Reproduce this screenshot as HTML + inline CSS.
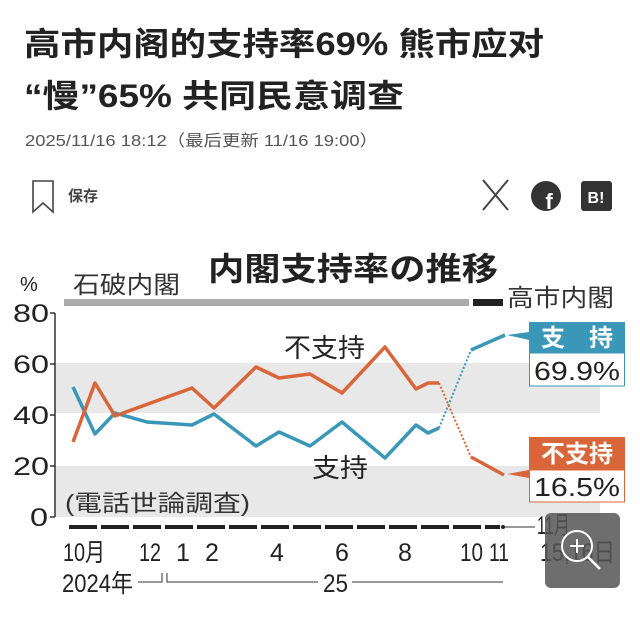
<!DOCTYPE html>
<html><head><meta charset="utf-8"><style>
body{margin:0;background:#fff;width:640px;height:627px;overflow:hidden;font-family:"Liberation Sans","Noto Sans CJK JP",sans-serif}
</style></head><body>
<svg width="640" height="627" viewBox="0 0 640 627" xmlns="http://www.w3.org/2000/svg" font-family="Liberation Sans, Noto Sans CJK JP, sans-serif">
<rect width="640" height="627" fill="#fff"/>
<text x="24" y="55" font-size="32" font-weight="bold" fill="#222" textLength="520" lengthAdjust="spacingAndGlyphs" font-family="Liberation Sans, Noto Sans CJK SC, sans-serif">高市内阁的支持率69% 熊市应对</text>
<text x="24" y="107" font-size="32" font-weight="bold" fill="#222" textLength="380" lengthAdjust="spacingAndGlyphs" font-family="Liberation Sans, Noto Sans CJK SC, sans-serif">“慢”65% 共同民意调查</text>
<text x="25" y="146" font-size="16" fill="#555" textLength="353" lengthAdjust="spacingAndGlyphs" font-family="Liberation Sans, Noto Sans CJK SC, sans-serif">2025/11/16 18:12（最后更新 11/16 19:00）</text>
<path d="M33 181 H53 V212 L43 203 L33 212 Z" fill="none" stroke="#444" stroke-width="1.6"/>
<text x="68" y="201" font-size="15" font-weight="bold" fill="#444" font-family="Liberation Sans, Noto Sans CJK SC, sans-serif">保存</text>
<path d="M483 180 L508 210 M508 180 L483 210" stroke="#444" stroke-width="2"/>
<circle cx="546" cy="196" r="15" fill="#333"/>
<text x="549" y="209" font-size="22" font-weight="bold" fill="#fff" text-anchor="middle">f</text>
<rect x="581" y="181" width="31" height="30" rx="3" fill="#333"/>
<text x="596" y="203" font-size="16" font-weight="bold" fill="#fff" text-anchor="middle">B!</text>

<rect x="55" y="363" width="545" height="50" fill="#e8e8e8"/>
<rect x="55" y="466" width="545" height="51" fill="#e8e8e8"/>
<line x1="55" y1="313" x2="55" y2="517" stroke="#333" stroke-width="1.5"/>
<g stroke="#333" stroke-width="1.5"><line x1="50" y1="313" x2="55" y2="313"/><line x1="50" y1="364" x2="55" y2="364"/><line x1="50" y1="415" x2="55" y2="415"/><line x1="50" y1="466" x2="55" y2="466"/><line x1="50" y1="517" x2="55" y2="517"/></g>
<g font-size="25" fill="#222">
<text x="13" y="322" textLength="36" lengthAdjust="spacingAndGlyphs">80</text><text x="13" y="373" textLength="36" lengthAdjust="spacingAndGlyphs">60</text><text x="13" y="424" textLength="36" lengthAdjust="spacingAndGlyphs">40</text><text x="13" y="475" textLength="36" lengthAdjust="spacingAndGlyphs">20</text><text x="30" y="526" textLength="18" lengthAdjust="spacingAndGlyphs">0</text>
</g>
<text x="20" y="291" font-size="20" fill="#222">%</text>
<text x="73" y="293" font-size="24" fill="#333" textLength="107" lengthAdjust="spacingAndGlyphs">石破内閣</text>
<text x="208" y="280" font-size="32" font-weight="bold" fill="#222" textLength="290" lengthAdjust="spacingAndGlyphs">内閣支持率の推移</text>
<rect x="64" y="299" width="405" height="7" fill="#aaa"/>
<rect x="473" y="299" width="30" height="7" fill="#222"/>
<text x="507" y="306" font-size="24" fill="#333" textLength="107" lengthAdjust="spacingAndGlyphs">高市内閣</text>

<polyline fill="none" stroke="#3a97b8" stroke-width="3.5" stroke-linejoin="round" points="73,387 95,434 115,413 147,422 192,425 214,414 256,446 279,432 310,446 342,422 385,458 416,425 428,433 439,428"/>
<polyline fill="none" stroke="#d9663a" stroke-width="3.5" stroke-linejoin="round" points="73,442 95,383 115,416 192,388 214,408 256,367 279,378 310,374 342,393 385,347 416,389 428,383 439,383"/>
<line x1="439" y1="428" x2="471" y2="350" stroke="#3a97b8" stroke-width="2" stroke-dasharray="2,2"/>
<line x1="439" y1="383" x2="471" y2="457" stroke="#d9663a" stroke-width="2" stroke-dasharray="2,2"/>
<polyline fill="none" stroke="#3a97b8" stroke-width="3.5" points="471,350 505,335"/>
<polyline fill="none" stroke="#d9663a" stroke-width="3.5" points="471,457 504,475"/>
<path d="M507 335 L529 332 L529 340 Z" fill="#3a97b8"/>
<path d="M507 474 L529 470 L529 478 Z" fill="#d9663a"/>
<rect x="529" y="322" width="96" height="31" fill="#3a97b8"/>
<rect x="529.5" y="353" width="95" height="33" fill="#fff" stroke="#3a97b8"/>
<text x="577" y="346" font-size="24" fill="#fff" text-anchor="middle" font-weight="bold">支　持</text>
<text x="534" y="380" font-size="26" fill="#222" textLength="86" lengthAdjust="spacingAndGlyphs">69.9%</text>
<rect x="529" y="437" width="96" height="33" fill="#d9663a"/>
<rect x="529.5" y="470" width="95" height="32" fill="#fff" stroke="#d9663a"/>
<text x="577" y="462" font-size="24" fill="#fff" text-anchor="middle" font-weight="bold">不支持</text>
<text x="534" y="496" font-size="26" fill="#222" textLength="86" lengthAdjust="spacingAndGlyphs">16.5%</text>

<text x="284" y="357" font-size="26" fill="#222" textLength="81" lengthAdjust="spacingAndGlyphs">不支持</text>
<text x="312" y="477" font-size="26" fill="#222" textLength="56" lengthAdjust="spacingAndGlyphs">支持</text>
<text x="65" y="511" font-size="23" fill="#333" textLength="185" lengthAdjust="spacingAndGlyphs">(電話世論調査)</text>

<line x1="69" y1="527" x2="500" y2="527" stroke="#222" stroke-width="4" stroke-dasharray="28,4"/>
<circle cx="503" cy="527" r="2" fill="#222"/>
<line x1="505" y1="527" x2="535" y2="527" stroke="#333" stroke-width="1"/>
<g font-size="25" fill="#222">
<text x="63" y="561" textLength="42" lengthAdjust="spacingAndGlyphs">10月</text>
<text x="139" y="561" textLength="22" lengthAdjust="spacingAndGlyphs">12</text>
<text x="176" y="561">1</text>
<text x="205" y="561">2</text>
<text x="270" y="561">4</text>
<text x="335" y="561">6</text>
<text x="398" y="561">8</text>
<text x="460" y="561" textLength="23" lengthAdjust="spacingAndGlyphs">10</text>
<text x="489" y="561" textLength="20" lengthAdjust="spacingAndGlyphs">11</text>
<text x="537" y="534" textLength="33" lengthAdjust="spacingAndGlyphs">11月</text>
<text x="540" y="561" textLength="75" lengthAdjust="spacingAndGlyphs">15,16日</text>
<text x="62" y="592" textLength="71" lengthAdjust="spacingAndGlyphs">2024年</text>
<text x="323" y="592" textLength="25" lengthAdjust="spacingAndGlyphs">25</text>
</g>
<path d="M138 582 H162 V573 M167 573 V582 H318 M352 582 H503" fill="none" stroke="#333" stroke-width="1"/>
<rect x="545" y="513" width="75" height="75" rx="6" fill="#555" opacity="0.85"/>
<circle cx="577" cy="546" r="15" fill="none" stroke="#fff" stroke-width="2"/>
<line x1="588" y1="557" x2="600" y2="569" stroke="#fff" stroke-width="2.5"/>
<path d="M577 539 V553 M570 546 H584" stroke="#fff" stroke-width="2"/>
</svg>
</body></html>
